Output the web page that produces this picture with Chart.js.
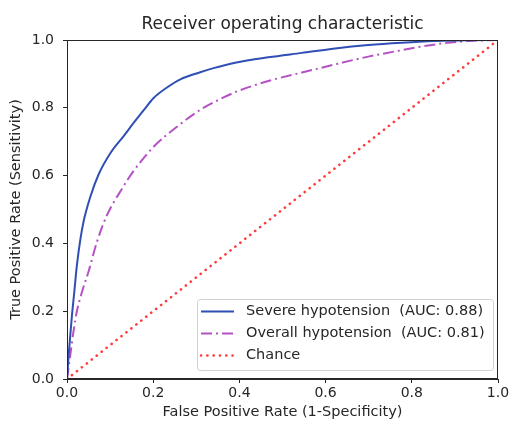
<!DOCTYPE html>
<html>
<head>
<meta charset="utf-8">
<script src="https://cdn.jsdelivr.net/npm/chart.js"></script>
<style>
  html, body { margin: 0; padding: 0; background: #fff; }
  #wrap { width: 515px; height: 421px; }
</style>
</head>
<body>
<div id="wrap"><canvas id="rocChart" width="515" height="421"></canvas></div>
<script>
// ROC curves
const severeFpr = [0, 0.0039, 0.0077, 0.0116, 0.017, 0.023, 0.031, 0.0387, 0.054, 0.0735, 0.1005, 0.131, 0.155, 0.178, 0.201, 0.232, 0.263, 0.309, 0.34, 0.39, 0.467, 0.545, 0.622, 0.699, 0.777, 0.854, 0.931, 1];
const severeTpr = [0, 0.071, 0.13, 0.189, 0.258, 0.336, 0.412, 0.466, 0.537, 0.604, 0.666, 0.716, 0.756, 0.793, 0.829, 0.86, 0.884, 0.905, 0.917, 0.933, 0.949, 0.962, 0.975, 0.985, 0.992, 0.997, 0.9995, 1];
const overallFpr = [0, 0.0077, 0.015, 0.023, 0.035, 0.05, 0.0696, 0.093, 0.128, 0.153, 0.201, 0.255, 0.309, 0.356, 0.394, 0.467, 0.545, 0.622, 0.699, 0.777, 0.854, 0.931, 1];
const overallTpr = [0, 0.071, 0.14, 0.2, 0.258, 0.317, 0.405, 0.484, 0.562, 0.611, 0.685, 0.744, 0.794, 0.826, 0.848, 0.879, 0.904, 0.928, 0.951, 0.97, 0.987, 0.997, 1];
const chanceFpr = [0, 1];
const chanceTpr = [0, 1];
const seriesLabels = ['Severe hypotension  (AUC: 0.88)', 'Overall hypotension  (AUC: 0.81)', 'Chance'];
const tickValues = [0, 0.2, 0.4, 0.6, 0.8, 1.0];

function toPoints(xs, ys){
    var pts = [];
    for(var i=0; i<xs.length; i++){
        pts.push({x: xs[i], y: ys[i]});
    }
    return pts;
}

const FONT = 'DejaVu Sans';
const AXIS_COLOR = '#262626';
const TEXT_COLOR = '#262626';

// box around the plot area, like matplotlib spines
const frameBox = {
    id: 'frameBox',
    afterDatasetsDraw(chart){
        const a = chart.chartArea;
        const ctx = chart.ctx;
        ctx.save();
        ctx.strokeStyle = AXIS_COLOR;
        ctx.lineWidth = 1;
        ctx.setLineDash([]);
        ctx.strokeRect(a.left + 0.5, a.top + 0.5, a.right - a.left - 1, a.bottom - a.top - 1);
        ctx.restore();
    }
};

// legend drawn inside the lower right corner
const innerLegend = {
    id: 'innerLegend',
    afterDraw(chart){
        const a = chart.chartArea;
        const ctx = chart.ctx;
        const sets = chart.data.datasets;
        ctx.save();
        ctx.font = '14.5px "' + FONT + '"';
        var textW = 0;
        for(var i=0; i<sets.length; i++){
            textW = Math.max(textW, ctx.measureText(sets[i].label).width);
        }
        const rowH = 22;
        const w = 49 + textW + 8;
        const h = rowH * sets.length + 5;
        const x = Math.round(a.right - 5 - w);
        const y = a.bottom - 9 - h;
        ctx.fillStyle = 'rgba(255,255,255,0.85)';
        ctx.strokeStyle = '#d0d0d0';
        ctx.lineWidth = 1;
        ctx.beginPath();
        ctx.roundRect(x + 0.5, y + 0.5, a.right - 5 - x, h, 3);
        ctx.fill();
        ctx.stroke();
        for(var i=0; i<sets.length; i++){
            const ds = sets[i];
            const cy = y + 12.5 + i * rowH;
            ctx.strokeStyle = ds.borderColor;
            ctx.lineWidth = ds.borderWidth;
            ctx.lineCap = ds.borderCapStyle || 'butt';
            ctx.setLineDash(ds.borderDash || []);
            ctx.beginPath();
            ctx.moveTo(x + 4, cy);
            ctx.lineTo(x + 37, cy);
            ctx.stroke();
            ctx.setLineDash([]);
            ctx.fillStyle = TEXT_COLOR;
            ctx.textBaseline = 'middle';
            ctx.textAlign = 'left';
            ctx.fillText(ds.label, x + 49, cy);
        }
        ctx.restore();
    }
};

const rocCtx = document.getElementById('rocChart').getContext('2d');
const rocChart = new Chart(rocCtx, {
    type: 'scatter',
    data: {
        datasets: [
            {
                label: seriesLabels[0],
                data: toPoints(severeFpr, severeTpr),
                showLine: true,
                borderColor: '#2f4fb5',
                borderWidth: 2,
                pointRadius: 0,
                cubicInterpolationMode: 'monotone'
            },
            {
                label: seriesLabels[1],
                data: toPoints(overallFpr, overallTpr),
                showLine: true,
                borderColor: '#b452c4',
                borderWidth: 2,
                borderDash: [11, 4, 2, 4],
                pointRadius: 0,
                cubicInterpolationMode: 'monotone'
            },
            {
                label: seriesLabels[2],
                data: toPoints(chanceFpr, chanceTpr),
                showLine: true,
                borderColor: '#ff3b3b',
                borderWidth: 2.6,
                borderDash: [0.1, 6.2],
                borderCapStyle: 'round',
                pointRadius: 0
            }
        ]
    },
    options: {
        responsive: false,
        animation: false,
        layout: {
            padding: {left: 0, right: 17, top: 0, bottom: 0}
        },
        plugins: {
            legend: { display: false },
            tooltip: { enabled: false }
        },
        scales: {
            // top axis only carries the title, so it sits centred over the plot
            xTop: {
                type: 'linear',
                position: 'top',
                min: 0,
                max: 1,
                afterFit: function(scale){ scale.height = 40; },
                grid: { display: false },
                border: { display: false },
                ticks: { display: false },
                title: {
                    display: true,
                    text: 'Receiver operating characteristic',
                    color: TEXT_COLOR,
                    font: { family: FONT, size: 17, lineHeight: 1.2 },
                    padding: { top: 14, bottom: 0 }
                }
            },
            x: {
                type: 'linear',
                position: 'bottom',
                min: 0,
                max: 1,
                afterBuildTicks: function(scale){
                    scale.ticks = tickValues.map(function(v){ return {value: v}; });
                },
                afterFit: function(scale){ scale.height = 42; },
                grid: {
                    drawOnChartArea: false,
                    drawTicks: true,
                    tickLength: 4,
                    tickColor: AXIS_COLOR
                },
                border: { display: true, color: AXIS_COLOR },
                ticks: {
                    color: TEXT_COLOR,
                    padding: 2,
                    maxRotation: 0,
                    font: { family: FONT, size: 14 },
                    callback: function(v){ return v.toFixed(1); }
                },
                title: {
                    display: true,
                    text: 'False Positive Rate (1-Specificity)',
                    color: TEXT_COLOR,
                    font: { family: FONT, size: 14.5 },
                    padding: { top: 0, bottom: 0 }
                }
            },
            y: {
                type: 'linear',
                min: 0,
                max: 1,
                afterBuildTicks: function(scale){
                    scale.ticks = tickValues.map(function(v){ return {value: v}; });
                },
                afterFit: function(scale){ scale.width = 67; },
                grid: {
                    drawOnChartArea: false,
                    drawTicks: true,
                    tickLength: 4,
                    tickColor: AXIS_COLOR
                },
                border: { display: true, color: AXIS_COLOR },
                ticks: {
                    color: TEXT_COLOR,
                    padding: 9,
                    font: { family: FONT, size: 14 },
                    callback: function(v){ return v.toFixed(1); }
                },
                title: {
                    display: true,
                    text: 'True Positive Rate (Sensitivity)',
                    color: TEXT_COLOR,
                    font: { family: FONT, size: 14.5 },
                    padding: { top: 8, bottom: 0 }
                }
            }
        }
    },
    plugins: [frameBox, innerLegend]
});
</script>
</body>
</html>
